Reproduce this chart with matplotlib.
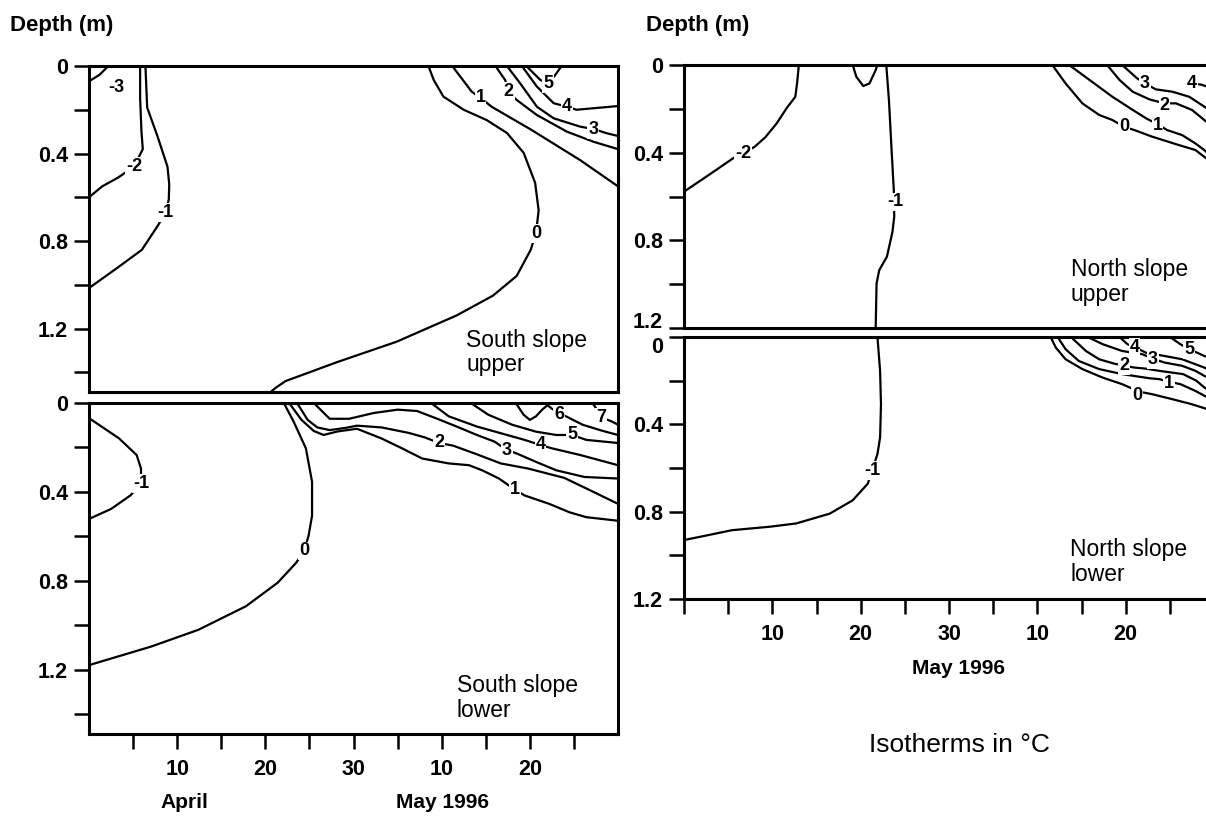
import matplotlib
matplotlib.use("Agg")
import matplotlib.pyplot as plt

plt.rcParams['font.family'] = ['Liberation Sans', 'DejaVu Sans']

# Isotherms: (day since 31 March, depth in m)
# ---- South slope upper ----
ssu_m3 = [(0.0, 0.07), (1.2, 0.04), (2.2, 0.0)]
ssu_m2 = [(5.8, 0.0), (5.8, 0.15), (5.95, 0.30), (6.1, 0.38), (5.1, 0.46),
          (3.3, 0.51), (1.5, 0.55), (0.0, 0.60)]
ssu_m1 = [(6.4, 0.0), (6.6, 0.19), (7.8, 0.325), (8.9, 0.46), (9.1, 0.54),
          (9.05, 0.61), (8.7, 0.67), (7.8, 0.73), (6.0, 0.84), (3.3, 0.92),
          (0.0, 1.015)]
ssu_0 = [(38.5, 0.0), (39.1, 0.064), (40.2, 0.14), (42.5, 0.20), (45.1, 0.247),
         (47.4, 0.306), (49.3, 0.397), (50.6, 0.534), (51.0, 0.66), (50.7, 0.764),
         (50.1, 0.84), (48.5, 0.96), (45.8, 1.05), (41.7, 1.14), (34.9, 1.26),
         (28.1, 1.354), (22.3, 1.44), (21.2, 1.47), (20.6, 1.49)]
ssu_1 = [(41.2, 0.0), (43.4, 0.117), (44.4, 0.146), (45.7, 0.187), (50.1, 0.29),
         (55.7, 0.43), (60.0, 0.55)]
ssu_2 = [(46.1, 0.0), (47.2, 0.064), (47.6, 0.117), (48.5, 0.155), (50.8, 0.224),
         (54.2, 0.30), (57.2, 0.346), (60.0, 0.38)]
ssu_3 = [(47.4, 0.0), (48.9, 0.079), (50.8, 0.186), (52.7, 0.239), (55.7, 0.277),
         (57.2, 0.288), (58.7, 0.307), (60.0, 0.32)]
ssu_4 = [(49.1, 0.0), (50.8, 0.094), (52.7, 0.17), (54.2, 0.186), (55.3, 0.20),
         (60.0, 0.183)]
ssu_5 = [(49.6, 0.0), (51.2, 0.064), (52.1, 0.08), (52.9, 0.04), (53.6, 0.0)]
ssu_labels = [("-3", 3.1, 0.10), ("-2", 5.1, 0.46), ("-1", 8.7, 0.67),
              ("0", 50.7, 0.764), ("1", 44.4, 0.146), ("2", 47.6, 0.117),
              ("3", 57.2, 0.29), ("4", 54.2, 0.186), ("5", 52.1, 0.08)]

# ---- South slope lower ----
ssl_m1 = [(0.0, 0.068), (3.4, 0.159), (5.4, 0.234), (5.9, 0.295), (5.9, 0.363),
          (4.7, 0.416), (2.5, 0.477), (0.0, 0.522)]
ssl_0 = [(22.1, 0.0), (23.2, 0.083), (24.6, 0.204), (25.3, 0.355), (25.3, 0.507),
         (24.9, 0.598), (24.4, 0.666), (23.5, 0.719), (21.4, 0.809), (17.8, 0.915),
         (12.4, 1.021), (7.0, 1.097), (0.0, 1.18)]
ssl_1 = [(22.7, 0.0), (24.1, 0.076), (25.5, 0.126), (26.6, 0.144), (28.2, 0.128),
         (30.4, 0.116), (33.2, 0.16), (35.5, 0.204), (37.8, 0.25), (40.8, 0.272),
         (43.1, 0.28), (44.6, 0.303), (46.5, 0.34), (48.3, 0.39), (49.4, 0.416),
         (52.2, 0.454), (54.5, 0.492), (56.4, 0.514), (60.0, 0.53)]
ssl_2 = [(23.6, 0.0), (24.8, 0.076), (25.9, 0.11), (27.3, 0.122), (29.1, 0.112),
         (30.4, 0.102), (33.2, 0.11), (36.3, 0.135), (38.1, 0.155), (39.7, 0.18),
         (41.3, 0.192), (44.0, 0.231), (46.7, 0.272), (49.8, 0.295), (53.9, 0.337),
         (57.1, 0.398), (60.0, 0.454)]
ssl_3 = [(25.5, 0.0), (27.3, 0.071), (29.5, 0.071), (32.3, 0.045), (35.0, 0.03),
         (37.2, 0.036), (39.5, 0.071), (41.7, 0.106), (44.0, 0.144), (46.0, 0.174),
         (47.4, 0.212), (48.5, 0.227), (50.7, 0.265), (53.0, 0.303), (56.2, 0.333),
         (60.0, 0.34)]
ssl_4 = [(38.8, 0.0), (40.8, 0.06), (44.0, 0.106), (46.7, 0.136), (49.4, 0.166),
         (51.2, 0.189), (52.5, 0.204), (55.7, 0.234), (60.0, 0.28)]
ssl_5 = [(43.3, 0.0), (45.3, 0.053), (48.0, 0.098), (50.7, 0.129), (53.0, 0.144),
         (54.8, 0.144), (56.4, 0.166), (60.0, 0.18)]
ssl_6 = [(48.4, 0.0), (49.3, 0.053), (50.0, 0.076), (50.7, 0.06), (51.4, 0.03),
         (52.0, 0.01), (53.3, 0.05), (54.1, 0.06), (56.0, 0.098), (58.3, 0.126),
         (60.0, 0.144)]
ssl_7 = [(57.1, 0.0), (57.5, 0.023), (58.1, 0.065), (59.3, 0.083), (60.0, 0.098)]
ssl_labels = [("-1", 5.9, 0.363), ("0", 24.4, 0.666), ("1", 48.3, 0.39),
              ("2", 39.7, 0.18), ("3", 47.4, 0.212), ("4", 51.2, 0.189),
              ("5", 54.8, 0.144), ("6", 53.3, 0.05), ("7", 58.1, 0.065)]

# ---- North slope upper ----
nsu_m2 = [(0.0, 0.578), (2.8, 0.502), (5.8, 0.419), (6.7, 0.403), (8.0, 0.373),
          (9.2, 0.33), (10.5, 0.266), (11.6, 0.198), (12.6, 0.145), (12.8, 0.084),
          (13.0, 0.0)]
nsu_loop = [(19.1, 0.0), (19.5, 0.053), (20.3, 0.096), (21.0, 0.084),
            (21.7, 0.023), (21.9, 0.0)]
nsu_m1 = [(22.9, 0.0), (23.2, 0.16), (23.5, 0.388), (23.75, 0.57), (23.8, 0.692),
          (23.6, 0.761), (22.97, 0.875), (22.1, 0.936), (21.8, 0.997), (21.7, 1.2)]
nsu_0 = [(41.7, 0.0), (43.2, 0.084), (45.1, 0.175), (47.0, 0.228), (48.5, 0.251),
         (49.8, 0.282), (51.0, 0.297), (53.0, 0.327), (56.0, 0.365), (57.9, 0.388),
         (58.9, 0.419), (60.0, 0.45)]
nsu_1 = [(43.6, 0.0), (45.9, 0.068), (48.5, 0.145), (50.8, 0.205), (52.3, 0.243),
         (53.6, 0.27), (54.7, 0.297), (56.4, 0.32), (57.9, 0.358), (58.9, 0.388),
         (60.0, 0.43)]
nsu_2 = [(47.9, 0.0), (49.3, 0.068), (50.8, 0.122), (52.7, 0.157), (54.4, 0.175),
         (55.7, 0.175), (57.5, 0.205), (58.9, 0.251), (60.0, 0.29)]
nsu_3 = [(49.6, 0.0), (51.3, 0.061), (52.2, 0.084), (53.4, 0.111), (55.3, 0.122),
         (57.2, 0.145), (58.9, 0.19), (60.0, 0.22)]
nsu_4 = [(57.5, 0.084), (58.6, 0.09), (60.0, 0.11)]
nsu_labels = [("-2", 6.7, 0.403), ("-1", 23.9, 0.625), ("0", 49.8, 0.282),
              ("1", 53.6, 0.275), ("2", 54.4, 0.183), ("3", 52.2, 0.084),
              ("4", 57.5, 0.084)]

# ---- North slope lower ----
nsl_m1 = [(21.9, 0.0), (22.2, 0.156), (22.3, 0.308), (22.2, 0.46), (21.9, 0.536),
          (21.3, 0.612), (20.8, 0.672), (19.1, 0.748), (16.5, 0.809), (12.7, 0.854),
          (9.7, 0.869), (5.4, 0.885), (2.8, 0.907), (0.0, 0.93)]
nsl_0 = [(41.5, 0.0), (42.1, 0.049), (43.2, 0.102), (45.1, 0.147), (47.4, 0.186),
         (49.6, 0.216), (51.5, 0.25), (53.0, 0.262), (55.3, 0.285), (57.5, 0.308),
         (58.9, 0.326), (60.0, 0.34)]
nsl_1 = [(42.3, 0.0), (43.2, 0.056), (44.7, 0.11), (47.0, 0.147), (49.6, 0.17),
         (52.7, 0.189), (53.8, 0.193), (54.9, 0.205), (56.2, 0.216), (57.9, 0.247),
         (58.9, 0.269), (60.0, 0.29)]
nsl_2 = [(43.8, 0.0), (45.5, 0.064), (47.0, 0.102), (48.7, 0.122), (49.8, 0.132),
         (51.0, 0.14), (52.3, 0.145), (53.8, 0.155), (56.5, 0.17), (58.0, 0.2),
         (58.9, 0.231), (60.0, 0.26)]
nsl_3 = [(45.7, 0.0), (47.4, 0.033), (49.6, 0.064), (51.9, 0.079), (53.1, 0.1),
         (54.4, 0.117), (56.4, 0.132), (57.9, 0.155), (58.9, 0.178), (60.0, 0.2)]
nsl_4 = [(49.3, 0.0), (50.2, 0.033), (51.0, 0.046), (52.3, 0.072), (54.4, 0.087),
         (56.4, 0.102), (58.9, 0.14), (60.0, 0.16)]
nsl_5 = [(55.0, 0.0), (56.2, 0.033), (57.2, 0.056), (58.1, 0.072), (58.9, 0.087),
         (60.0, 0.1)]
nsl_labels = [("-1", 21.3, 0.612), ("0", 51.3, 0.27), ("1", 54.9, 0.212),
              ("2", 49.8, 0.132), ("3", 53.1, 0.105), ("4", 51.0, 0.046),
              ("5", 57.2, 0.056)]

ytick_vals = [0, 0.4, 0.8, 1.2]
ytick_text = ["0", "0.4", "0.8", "1.2"]
left_xticks = [5, 10, 15, 20, 25, 30, 35, 40, 45, 50, 55]
right_xticks = [0, 5, 10, 15, 20, 25, 30, 35, 40, 45, 50, 55]
xtick_names = {10: "10", 20: "20", 30: "30", 40: "10", 50: "20"}

W, H = 1206, 816


def px_axes(fig, left, top, right, bottom):
    return fig.add_axes([left / W, 1 - bottom / H, (right - left) / W, (bottom - top) / H])


def draw_panel(ax, lines, labels, ymax, yminor, xticks, title):
    for pts in lines:
        ax.plot([p[0] for p in pts], [p[1] for p in pts], color='black', lw=1.6,
                solid_capstyle='round')
    for txt, x, y in labels:
        ax.text(x, y, txt, ha='center', va='center', fontsize=13, fontweight='bold',
                bbox=dict(facecolor='white', edgecolor='none', pad=0.6), zorder=5)
    ax.set_xlim(0, 60)
    ax.set_ylim(ymax, 0)
    ax.set_yticks(ytick_vals)
    ax.set_yticklabels(ytick_text, fontsize=15.5, fontweight='bold')
    ax.set_yticks(yminor, minor=True)
    ax.tick_params(axis='y', which='both', direction='out', length=11, width=1.8, pad=4)
    if xticks:
        ax.set_xticks(xticks)
        ax.set_xticklabels([xtick_names.get(t, "") for t in xticks], fontsize=15.5,
                           fontweight='bold')
        ax.tick_params(axis='x', direction='out', length=11, width=1.8, pad=7)
    else:
        ax.tick_params(axis='x', bottom=False, labelbottom=False)
    for sp in ax.spines.values():
        sp.set_linewidth(2.2)
    ax.text(title[1], title[2], title[0], ha='left', va='top', fontsize=16.5,
            linespacing=1.1)


fig = plt.figure(figsize=(W / 100, H / 100), dpi=100)

ax1 = px_axes(fig, 89, 66, 618, 392)
draw_panel(ax1, [ssu_m3, ssu_m2, ssu_m1, ssu_0, ssu_1, ssu_2, ssu_3, ssu_4, ssu_5],
           ssu_labels, 1.49, [0.2, 0.6, 1.0, 1.4], None,
           ("South slope\nupper", 42.8, 1.2))

ax2 = px_axes(fig, 89, 403, 618, 734)
draw_panel(ax2, [ssl_m1, ssl_0, ssl_1, ssl_2, ssl_3, ssl_4, ssl_5, ssl_6, ssl_7],
           ssl_labels, 1.49, [0.2, 0.6, 1.0, 1.4], left_xticks,
           ("South slope\nlower", 41.7, 1.22))

ax3 = px_axes(fig, 684, 65, 1214, 328)
draw_panel(ax3, [nsu_m2, nsu_loop, nsu_m1, nsu_0, nsu_1, nsu_2, nsu_3, nsu_4],
           nsu_labels, 1.2, [0.2, 0.6, 1.0], None,
           ("North slope\nupper", 43.8, 0.88))

ax4 = px_axes(fig, 684, 337, 1214, 599)
draw_panel(ax4, [nsl_m1, nsl_0, nsl_1, nsl_2, nsl_3, nsl_4, nsl_5],
           nsl_labels, 1.2, [0.2, 0.6, 1.0], right_xticks,
           ("North slope\nlower", 43.7, 0.92))

# the stacked right panels share an edge: lift "1.2" and drop "0"
ax3.get_yticklabels()[-1].set_va('baseline')
ax4.get_yticklabels()[0].set_va('top')

fig.text(10 / W, 1 - 26 / H, "Depth (m)", ha='left', va='center', fontsize=16,
         fontweight='bold')
fig.text(646 / W, 1 - 26 / H, "Depth (m)", ha='left', va='center', fontsize=16,
         fontweight='bold')
fig.text(184 / W, 1 - 803 / H, "April", ha='center', va='center', fontsize=15,
         fontweight='bold')
fig.text(443 / W, 1 - 803 / H, "May 1996", ha='center', va='center', fontsize=15,
         fontweight='bold')
fig.text(958 / W, 1 - 668 / H, "May 1996", ha='center', va='center', fontsize=15,
         fontweight='bold')
fig.text(959 / W, 1 - 745 / H, "Isotherms in °C", ha='center', va='center',
         fontsize=19)

fig.savefig("out.png", dpi=100)
